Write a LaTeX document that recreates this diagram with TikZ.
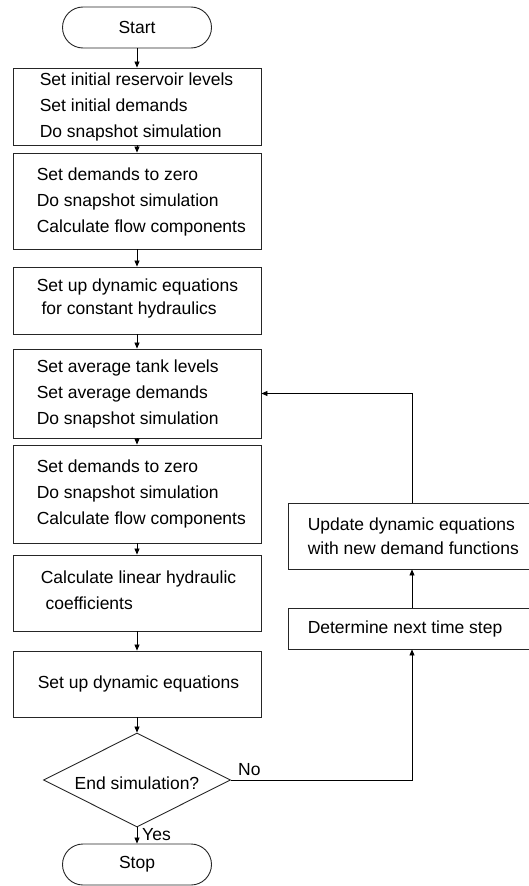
\documentclass[tikz,border=0pt]{standalone}
\usepackage{fontspec}
\setmainfont{Liberation Sans}
\usetikzlibrary{arrows.meta,shapes.geometric}
\begin{document}
\begin{tikzpicture}[x=1pt,y=-1pt,
  every node/.style={font=\fontsize{17.5pt}{26pt}\selectfont, text=black},
  edge/.style={draw=black!85, line width=0.9pt},
  term/.style={edge, rounded corners=20.5pt, minimum width=149pt, minimum height=41pt, inner sep=0pt},
  procbox/.style={edge, minimum width=248pt, inner sep=0pt},
  sidebox/.style={edge, minimum width=242pt, inner sep=0pt},
  txt/.style={align=left, anchor=west, inner sep=0pt},
  tighttxt/.style={txt, font=\fontsize{17.5pt}{23.5pt}\selectfont},
  decis/.style={edge, shape=diamond, aspect=2, minimum width=187pt, minimum height=94pt, inner sep=0pt},
  arr/.style={draw=black, line width=0.8pt, -{Triangle[length=6pt,width=5pt]}},
  lbl/.style={inner sep=0pt}
]
\useasboundingbox (0,0) rectangle (528,886);

\node[term] (start) at (137,27.5) {Start};

% main column boxes (x 13..261)
\node[procbox, minimum height=77pt] (b1) at (137,106.5) {};
\node[txt] (t1) at ([xshift=27pt]b1.west) {Set initial reservoir levels\\Set initial demands\\Do snapshot simulation};

\node[procbox, minimum height=96pt] (b2) at (137,201) {};
\node[txt] (t2) at ([xshift=24pt,yshift=-1pt]b2.west) {Set demands to zero\\Do snapshot simulation\\Calculate flow components};

\node[procbox, minimum height=67pt] (b3) at (137,300.5) {};
\node[tighttxt] (t3) at ([xshift=24pt,yshift=2pt]b3.west) {Set up dynamic equations\\\hspace*{0.278em}for constant hydraulics};

\node[procbox, minimum height=89pt] (b4) at (137,393.5) {};
\node[txt] (t4) at ([xshift=24pt]b4.west) {Set average tank levels\\Set average demands\\Do snapshot simulation};

\node[procbox, minimum height=98pt] (b5) at (137,494) {};
\node[txt] (t5) at ([xshift=24pt]b5.west) {Set demands to zero\\Do snapshot simulation\\Calculate flow components};

\node[procbox, minimum height=76pt] (b6) at (137,593) {};
\node[txt] (t6) at ([xshift=28pt,yshift=3pt]b6.west) {Calculate linear hydraulic\\\hspace*{0.278em}coefficients};

\node[procbox, minimum height=66pt] (b7) at (137,684) {};
\node[txt] (t7) at ([xshift=25pt]b7.west) {Set up dynamic equations};

\node[decis] (dec) at (137,780) {};
\node[lbl] (dect) at (137,783) {End simulation?};

\node[term] (stop) at (137,864.5) {Stop};

% side column boxes (x 288..530, right edge beyond the picture)
\node[sidebox, minimum height=66pt] (upd) at (409,536) {};
\node[tighttxt] (tu) at ([xshift=20pt]upd.west) {Update dynamic equations\\with new demand functions};

\node[sidebox, minimum height=41pt] (det) at (409,628.5) {};
\node[txt] (td) at ([xshift=20pt]det.west) {Determine next time step};

\coordinate (tr) at (412,393.5);
\coordinate (br) at (412,780);

\draw[arr] (start) -- (b1);
\draw[arr] (b1.south -| start) -- (b2.north -| start);
\draw[arr] (b2.south -| start) -- (b3.north -| start);
\draw[arr] (b3.south -| start) -- (b4.north -| start);
\draw[arr] (b4.south -| start) -- (b5.north -| start);
\draw[arr] (b5.south -| start) -- (b6.north -| start);
\draw[arr] (b6.south -| start) -- (b7.north -| start);
\draw[arr] (b7.south -| start) -- (dec.north);
\draw[arr] (dec.south) -- (stop.north);
\draw[arr] (dec.east) -- (br) -- (det.south -| br);
\draw[arr] (det.north -| br) -- (upd.south -| br);
\draw[arr] (upd.north -| tr) -- (tr) -- (b4.east);

\node[lbl, anchor=west] (yes) at (142,835) {Yes};
\node[lbl, anchor=west] (no) at (238,770) {No};
\end{tikzpicture}
\end{document}
